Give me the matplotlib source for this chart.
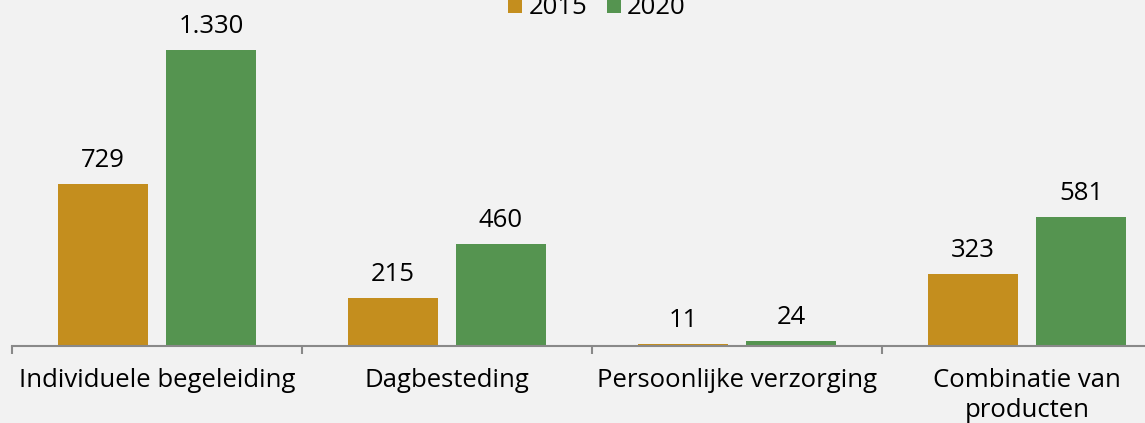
import matplotlib

matplotlib.use("Agg")
import matplotlib.pyplot as plt
import numpy as np

categories = ["Individuele begeleiding", "Dagbesteding", "Persoonlijke verzorging",
              "Combinatie van\nproducten"]
years = ["2015", "2020"]
values_2015 = [729, 215, 11, 323]
values_2020 = [1330, 460, 24, 581]
labels_2015 = ["729", "215", "11", "323"]
labels_2020 = ["1.330", "460", "24", "581"]

colors = ["#C48E1E", "#559450"]
bg = "#F2F2F2"
fs = 18.5

plt.rcParams["font.family"] = ["Open Sans", "DejaVu Sans"]

W, H = 1145, 423
fig = plt.figure(figsize=(W / 100, H / 100), dpi=100, facecolor=bg)
ax = fig.add_axes([12 / W, (H - 346) / H, (W - 12) / W, 346 / H], facecolor=bg)

x = np.arange(len(categories))
width = 90 / 290
off = 54 / 290
b1 = ax.bar(x - off, values_2015, width, color=colors[0], label=years[0])
b2 = ax.bar(x + off, values_2020, width, color=colors[1], label=years[1])

for bars, labs in ((b1, labels_2015), (b2, labels_2020)):
    for rect, lab in zip(bars, labs):
        ax.annotate(lab, (rect.get_x() + rect.get_width() / 2, rect.get_height()),
                    xytext=(0, 17), textcoords="offset pixels", ha="center", va="baseline",
                    fontsize=fs, color="#000000")

ax.set_xlim(-0.5, (W - 157) / 290)
ax.set_ylim(0, 1330 * 346 / 296)

for s in ["top", "right", "left"]:
    ax.spines[s].set_visible(False)
ax.spines["bottom"].set_color("#898989")
ax.spines["bottom"].set_linewidth(1.5)
ax.set_yticks([])

ax.set_xticks(x)
ax.set_xticklabels(categories, fontsize=fs, linespacing=1.3)
ax.tick_params(axis="x", which="major", length=0, pad=15.5)
ax.set_xticks(np.arange(len(categories)) - 0.5, minor=True)
ax.tick_params(axis="x", which="minor", length=6, width=1.5, color="#898989")

fig.legend(loc="center", bbox_to_anchor=(597 / W, 1 - 8 / H), ncol=2, frameon=False,
           fontsize=fs, handlelength=0.55, handleheight=0.55, handletextpad=0.25,
           columnspacing=0.75, borderpad=0)

fig.savefig("out.png", dpi=100, facecolor=bg)
